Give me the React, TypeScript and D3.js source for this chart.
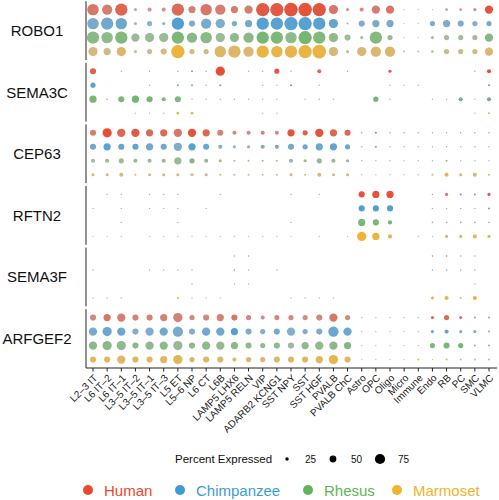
import React from "react";
import * as d3 from "d3";

const cellTypes = [
  "L2–3 IT", "L6 IT–2", "L6 IT–1", "L3–5 IT–2", "L3–5 IT–1", "L3–5 IT–3", "L5 ET", "L5–6 NP", "L6 CT", "L6B",
  "LAMP5 LHX6", "LAMP5 RELN", "VIP", "ADARB2 KCNG1", "SST NPY", "SST", "SST HGF", "PVALB", "PVALB ChC",
  "Astro", "OPC", "Oligo", "Micro", "Immune", "Endo", "RB", "PC", "SMC", "VLMC",
];
const genes = ["ROBO1", "SEMA3C", "CEP63", "RFTN2", "SEMA3F", "ARFGEF2"];
const species = ["Human", "Chimpanzee", "Rhesus", "Marmoset"];
const speciesColors = ["#E8482E", "#3E9AD8", "#5FB55A", "#F2B22E"];
const sizeLegend = [25, 50, 75];

// percent expressed, rows: Human, Chimpanzee, Rhesus, Marmoset
const robo1Pct = [
  [84, 76, 91, 23, 30, 30, 91, 53, 84, 76, 53, 61, 98, 98, 100, 100, 98, 68, 23, 30, 61, 61, 8, 8, 8, 20, 20, 25, 61],
  [84, 91, 84, 23, 38, 23, 91, 45, 76, 68, 38, 53, 91, 91, 98, 98, 91, 68, 15, 45, 53, 53, 8, 8, 38, 53, 45, 38, 38],
  [91, 84, 91, 61, 68, 68, 91, 76, 84, 68, 68, 76, 91, 91, 84, 98, 91, 68, 45, 23, 91, 38, 8, 8, 23, 38, 38, 38, 61],
  [68, 53, 68, 23, 38, 45, 98, 38, 38, 84, 91, 76, 91, 84, 91, 98, 100, 68, 23, 68, 76, 76, 15, 15, 20, 38, 38, 38, 61],
];
const robo1Exp = [
  [0.6, 0.55, 0.75, 0.2, 0.3, 0.35, 0.7, 0.5, 0.6, 0.55, 0.55, 0.55, 0.85, 0.85, 0.9, 0.9, 0.9, 0.6, 0.3, 0.4, 0.55, 0.6, 0.1, 0.1, 0.1, 0.3, 0.35, 0.35, 0.9],
  [0.55, 0.6, 0.65, 0.2, 0.35, 0.3, 0.85, 0.5, 0.55, 0.5, 0.5, 0.6, 0.8, 0.8, 0.8, 0.8, 0.8, 0.7, 0.25, 0.5, 0.55, 0.55, 0.1, 0.1, 0.5, 0.5, 0.5, 0.45, 0.55],
  [0.55, 0.5, 0.65, 0.4, 0.4, 0.4, 0.7, 0.55, 0.55, 0.4, 0.5, 0.55, 0.75, 0.7, 0.5, 0.75, 0.65, 0.5, 0.3, 0.3, 0.6, 0.4, 0.1, 0.1, 0.25, 0.3, 0.3, 0.3, 0.6],
  [0.45, 0.4, 0.6, 0.25, 0.35, 0.4, 0.9, 0.4, 0.4, 0.6, 0.6, 0.55, 0.85, 0.8, 0.8, 0.85, 0.85, 0.5, 0.3, 0.5, 0.55, 0.6, 0.15, 0.15, 0.2, 0.4, 0.4, 0.4, 0.55],
];

const sema3cPct = [
  [45, 0, 10, 0, 8, 0, 8, 15, 8, 68, 0, 8, 8, 38, 8, 0, 30, 0, 8, 0, 0, 23, 0, 0, 0, 0, 0, 8, 30],
  [38, 0, 0, 0, 8, 0, 15, 15, 8, 15, 0, 0, 8, 8, 15, 0, 8, 0, 0, 0, 0, 8, 8, 8, 0, 0, 0, 0, 15],
  [53, 12, 45, 53, 45, 30, 45, 10, 8, 8, 8, 8, 8, 8, 0, 8, 12, 8, 0, 0, 38, 8, 0, 0, 8, 10, 30, 8, 30],
  [0, 0, 0, 8, 8, 8, 20, 20, 0, 0, 0, 0, 8, 8, 0, 0, 0, 0, 0, 0, 0, 0, 0, 0, 0, 0, 0, 8, 15],
];
const sema3cExp = [
  [0.8, 0, 0.3, 0, 0.3, 0, 0.3, 0.5, 0.3, 0.95, 0, 0.3, 0.3, 0.85, 0.3, 0, 0.7, 0, 0.3, 0, 0, 0.9, 0, 0, 0, 0, 0, 0.3, 0.95],
  [0.75, 0, 0, 0, 0.3, 0, 0.6, 0.6, 0.3, 0.7, 0, 0, 0.3, 0.3, 0.8, 0, 0.3, 0, 0, 0, 0, 0.3, 0.3, 0.3, 0, 0, 0, 0, 0.8],
  [0.75, 0.5, 0.7, 0.8, 0.75, 0.7, 0.65, 0.4, 0.3, 0.3, 0.3, 0.3, 0.3, 0.3, 0, 0.3, 0.4, 0.3, 0, 0, 0.8, 0.3, 0, 0, 0.3, 0.4, 0.8, 0.3, 0.8],
  [0, 0, 0, 0.3, 0.3, 0.3, 0.7, 0.7, 0, 0, 0, 0, 0.3, 0.3, 0, 0, 0, 0, 0, 0, 0, 0, 0, 0, 0, 0, 0, 0.3, 0.95],
];

const cep63Pct = [
  [45, 68, 61, 61, 53, 53, 61, 61, 53, 45, 30, 30, 30, 30, 53, 38, 61, 53, 45, 10, 15, 10, 10, 8, 8, 10, 10, 10, 10],
  [45, 53, 45, 45, 53, 45, 61, 53, 45, 30, 23, 23, 30, 30, 45, 38, 53, 53, 38, 10, 15, 10, 10, 8, 8, 10, 10, 10, 10],
  [30, 30, 38, 30, 30, 30, 53, 38, 30, 23, 15, 15, 15, 15, 30, 23, 38, 30, 23, 8, 8, 8, 8, 8, 8, 15, 10, 10, 10],
  [23, 23, 30, 15, 23, 23, 23, 23, 23, 15, 15, 15, 15, 15, 23, 15, 30, 23, 23, 8, 8, 8, 8, 10, 15, 30, 23, 30, 15],
];
const cep63Exp = [
  [0.55, 0.95, 0.75, 0.85, 0.7, 0.7, 0.6, 0.9, 0.75, 0.5, 0.45, 0.45, 0.5, 0.45, 0.9, 0.8, 0.9, 0.75, 0.75, 0.5, 0.6, 0.5, 0.5, 0.3, 0.3, 0.5, 0.5, 0.5, 0.5],
  [0.6, 0.8, 0.7, 0.75, 0.6, 0.6, 0.5, 0.8, 0.65, 0.45, 0.4, 0.45, 0.5, 0.6, 0.55, 0.6, 0.65, 0.7, 0.65, 0.4, 0.6, 0.4, 0.4, 0.3, 0.3, 0.4, 0.4, 0.4, 0.4],
  [0.3, 0.35, 0.35, 0.45, 0.4, 0.4, 0.4, 0.6, 0.4, 0.3, 0.3, 0.3, 0.35, 0.35, 0.4, 0.45, 0.45, 0.45, 0.4, 0.3, 0.3, 0.3, 0.3, 0.3, 0.3, 0.5, 0.35, 0.35, 0.35],
  [0.4, 0.4, 0.4, 0.4, 0.4, 0.4, 0.4, 0.4, 0.4, 0.4, 0.4, 0.4, 0.4, 0.4, 0.4, 0.4, 0.45, 0.4, 0.4, 0.3, 0.3, 0.3, 0.3, 0.4, 0.6, 0.8, 0.6, 0.6, 0.6],
];

const rftn2Pct = [
  [0, 8, 8, 0, 8, 8, 10, 0, 0, 8, 0, 0, 0, 0, 8, 0, 8, 0, 0, 45, 53, 53, 0, 0, 8, 23, 15, 15, 23],
  [8, 0, 8, 0, 8, 8, 8, 0, 8, 0, 0, 0, 0, 0, 0, 0, 0, 0, 0, 45, 45, 45, 0, 0, 8, 8, 10, 10, 15],
  [0, 0, 8, 0, 0, 0, 10, 0, 0, 0, 0, 0, 0, 0, 8, 0, 0, 0, 0, 53, 45, 30, 0, 0, 12, 12, 12, 12, 12],
  [8, 8, 8, 0, 8, 8, 8, 8, 8, 8, 8, 8, 8, 8, 8, 0, 8, 0, 8, 68, 53, 30, 0, 8, 10, 23, 23, 30, 23],
];
const rftn2Exp = [
  [0, 0.3, 0.3, 0, 0.3, 0.3, 0.35, 0, 0, 0.3, 0, 0, 0, 0, 0.3, 0, 0.3, 0, 0, 0.9, 0.9, 0.9, 0, 0, 0.5, 0.6, 0.55, 0.55, 0.85],
  [0.3, 0, 0.3, 0, 0.3, 0.3, 0.3, 0, 0.3, 0, 0, 0, 0, 0, 0, 0, 0, 0, 0, 0.85, 0.85, 0.85, 0, 0, 0.4, 0.4, 0.5, 0.5, 0.6],
  [0, 0, 0.3, 0, 0, 0, 0.35, 0, 0, 0, 0, 0, 0, 0, 0.3, 0, 0, 0, 0, 0.7, 0.75, 0.8, 0, 0, 0.5, 0.5, 0.5, 0.5, 0.5],
  [0.3, 0.3, 0.3, 0, 0.3, 0.3, 0.3, 0.3, 0.3, 0.3, 0.3, 0.3, 0.3, 0.3, 0.3, 0, 0.3, 0, 0.3, 0.95, 0.9, 0.85, 0, 0.3, 0.5, 0.65, 0.6, 0.75, 0.75],
];

const sema3fPct = [
  [0, 0, 0, 0, 0, 0, 0, 0, 0, 0, 8, 8, 0, 0, 0, 0, 0, 0, 0, 0, 0, 0, 0, 0, 10, 12, 10, 10, 0],
  [8, 0, 0, 0, 8, 8, 8, 8, 0, 0, 10, 8, 0, 8, 0, 0, 0, 0, 0, 0, 0, 0, 0, 0, 10, 10, 10, 10, 0],
  [0, 0, 0, 0, 0, 0, 0, 8, 0, 0, 8, 8, 0, 0, 0, 0, 0, 0, 0, 0, 0, 0, 0, 0, 0, 0, 0, 8, 0],
  [8, 8, 8, 0, 0, 0, 15, 8, 8, 8, 0, 0, 0, 0, 8, 8, 8, 8, 0, 0, 0, 0, 0, 0, 23, 30, 15, 30, 0],
];
const sema3fExp = [
  [0, 0, 0, 0, 0, 0, 0, 0, 0, 0, 0.5, 0.4, 0, 0, 0, 0, 0, 0, 0, 0, 0, 0, 0, 0, 0.8, 0.85, 0.5, 0.5, 0],
  [0.3, 0, 0, 0, 0.3, 0.3, 0.3, 0.4, 0, 0, 0.7, 0.3, 0, 0.3, 0, 0, 0, 0, 0, 0, 0, 0, 0, 0, 0.7, 0.7, 0.6, 0.6, 0],
  [0, 0, 0, 0, 0, 0, 0, 0.3, 0, 0, 0.4, 0.3, 0, 0, 0, 0, 0, 0, 0, 0, 0, 0, 0, 0, 0, 0, 0, 0.3, 0],
  [0.3, 0.3, 0.3, 0, 0, 0, 0.8, 0.3, 0.3, 0.3, 0, 0, 0, 0, 0.3, 0.3, 0.3, 0.3, 0, 0, 0, 0, 0, 0, 0.75, 0.75, 0.7, 0.8, 0],
];

const arfgef2Pct = [
  [45, 53, 61, 45, 45, 53, 68, 38, 45, 53, 45, 38, 30, 38, 38, 38, 45, 61, 38, 8, 8, 8, 8, 8, 23, 38, 23, 15, 15],
  [61, 68, 61, 45, 61, 61, 76, 45, 61, 61, 53, 45, 38, 45, 61, 38, 45, 76, 61, 8, 8, 8, 8, 8, 23, 30, 23, 23, 15],
  [61, 68, 68, 45, 61, 61, 68, 45, 61, 61, 53, 45, 38, 45, 45, 53, 61, 61, 53, 8, 8, 8, 8, 8, 38, 45, 38, 15, 15],
  [45, 45, 61, 45, 45, 53, 68, 38, 45, 45, 30, 38, 38, 45, 45, 45, 53, 68, 45, 8, 8, 8, 10, 15, 10, 15, 15, 15, 15],
];
const arfgef2Exp = [
  [0.45, 0.6, 0.55, 0.5, 0.5, 0.5, 0.5, 0.45, 0.45, 0.5, 0.6, 0.45, 0.4, 0.45, 0.45, 0.4, 0.45, 0.6, 0.45, 0.3, 0.3, 0.3, 0.3, 0.3, 0.75, 0.7, 0.6, 0.4, 0.4],
  [0.55, 0.65, 0.65, 0.45, 0.5, 0.6, 0.55, 0.45, 0.6, 0.65, 0.85, 0.5, 0.45, 0.55, 0.45, 0.5, 0.5, 0.65, 0.65, 0.3, 0.3, 0.3, 0.3, 0.3, 0.7, 0.7, 0.55, 0.5, 0.45],
  [0.55, 0.55, 0.5, 0.55, 0.5, 0.5, 0.45, 0.5, 0.5, 0.45, 0.55, 0.5, 0.45, 0.5, 0.35, 0.5, 0.5, 0.55, 0.6, 0.3, 0.3, 0.3, 0.3, 0.3, 0.7, 0.7, 0.75, 0.4, 0.4],
  [0.7, 0.7, 0.65, 0.65, 0.65, 0.65, 0.7, 0.6, 0.6, 0.6, 0.55, 0.6, 0.6, 0.6, 0.6, 0.65, 0.7, 0.8, 0.65, 0.4, 0.4, 0.4, 0.4, 0.6, 0.4, 0.5, 0.5, 0.5, 0.5],
];

const pctTables = [robo1Pct, sema3cPct, cep63Pct, rftn2Pct, sema3fPct, arfgef2Pct];
const expTables = [robo1Exp, sema3cExp, cep63Exp, rftn2Exp, sema3fExp, arfgef2Exp];

const FONT = "'Liberation Sans', Arial, Helvetica, sans-serif";

export default function App() {
  const W = 499;
  const H = 500;
  const axisX = 86;
  const plotRight = 497;
  const panelH = 58.8;
  const gap = 2.8;
  const top0 = 1.2;
  const x = d3.scalePoint<string>().domain(cellTypes).range([93, 489]);
  const yGene = d3
    .scaleBand<string>()
    .domain(genes)
    .range([top0, top0 + 6 * panelH + 5 * gap])
    .paddingInner(gap / (panelH + gap))
    .paddingOuter(0);
  const ySp = d3.scalePoint<string>().domain(species).range([8.4, 50.4]);
  const r = d3.scaleLinear().domain([0, 100]).range([0, 6.8]);
  const axisY = top0 + 6 * panelH + 5 * gap;

  const dots: JSX.Element[] = [];
  genes.forEach((g, gi) => {
    const y0 = yGene(g)!;
    species.forEach((s, si) => {
      const color = d3.interpolateRgb("#BEBEBE", speciesColors[si]);
      cellTypes.forEach((c, ci) => {
        const p = pctTables[gi][si][ci];
        if (!p) return;
        const e = expTables[gi][si][ci];
        dots.push(
          <circle
            key={`${g}-${s}-${c}`}
            cx={x(c)}
            cy={y0 + ySp(s)!}
            r={Math.max(0.7, r(p))}
            fill={color(e)}
          />
        );
      });
    });
  });

  const legendSizeX = [287, 333, 380];
  const legendSpX = [88, 180, 308, 397];

  return (
    <svg
      width={W}
      height={H}
      style={{ position: "absolute", left: 0, top: 0, background: "#fff" }}
      fontFamily={FONT}
    >
      <rect width={W} height={H} fill="#fff" />
      {genes.map((g) => (
        <g key={g}>
          <line
            x1={axisX}
            x2={axisX}
            y1={yGene(g)!}
            y2={yGene(g)! + yGene.bandwidth()}
            stroke="#222"
            strokeWidth={1}
          />
          <text
            x={37}
            y={yGene(g)! + yGene.bandwidth() / 2}
            dy="0.36em"
            textAnchor="middle"
            fontSize={15}
            fill="#111"
          >
            {g}
          </text>
        </g>
      ))}
      {dots}
      <line x1={axisX} x2={plotRight} y1={axisY} y2={axisY} stroke="#222" strokeWidth={1} />
      {cellTypes.map((c) => (
        <g key={c}>
          <line x1={x(c)} x2={x(c)} y1={axisY} y2={axisY + 3.5} stroke="#222" strokeWidth={1} />
          <text
            transform={`translate(${x(c)},${axisY + 5.5}) rotate(-45)`}
            textAnchor="end"
            dy="0.72em"
            fontSize={10}
            fill="#222"
          >
            {c}
          </text>
        </g>
      ))}
      <text x={175} y={463} fontSize={11.5} fill="#111">
        Percent Expressed
      </text>
      {sizeLegend.map((v, i) => (
        <g key={v}>
          <circle cx={legendSizeX[i]} cy={459} r={r(v)} fill="#000" />
          <text x={legendSizeX[i] + 18} y={462.5} fontSize={10} fill="#111">
            {v}
          </text>
        </g>
      ))}
      {species.map((s, i) => (
        <g key={s}>
          <circle cx={legendSpX[i]} cy={490} r={5} fill={speciesColors[i]} />
          <text x={legendSpX[i] + 16} y={495.5} fontSize={15} fill={speciesColors[i]}>
            {s}
          </text>
        </g>
      ))}
    </svg>
  );
}
